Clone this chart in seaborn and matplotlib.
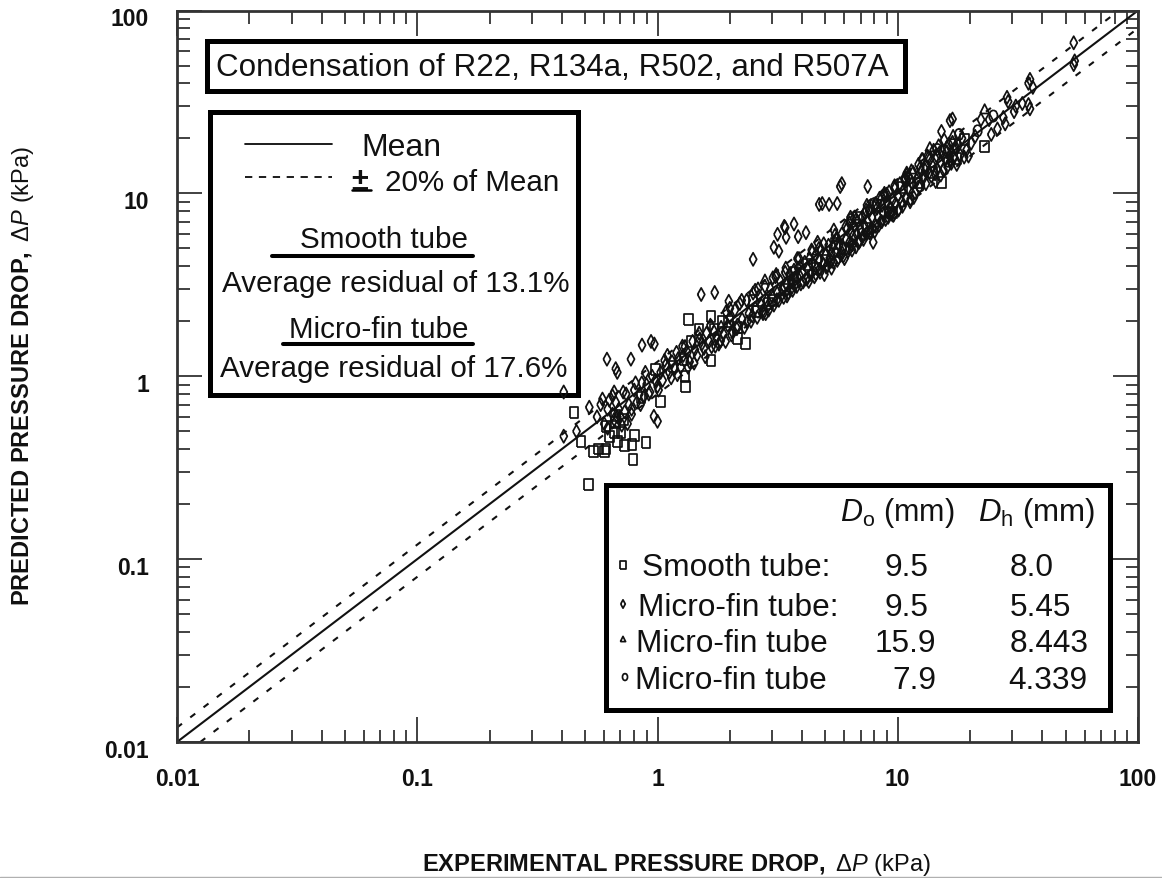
import matplotlib
matplotlib.use("Agg")
import matplotlib.pyplot as plt
from matplotlib.patches import Rectangle
from matplotlib.lines import Line2D
from matplotlib.ticker import LogLocator, NullFormatter
from matplotlib.transforms import ScaledTranslation
import seaborn as sns

sns.set_theme(style="white")
FONT = "Liberation Sans"
plt.rcParams["font.family"] = [FONT, "DejaVu Sans"]
plt.rcParams["mathtext.fontset"] = "custom"
plt.rcParams["mathtext.rm"] = FONT
plt.rcParams["mathtext.it"] = FONT + ":italic"
plt.rcParams["mathtext.bf"] = FONT + ":bold"

W, H = 1162, 879
INK = "#111111"

# ---------- data (kPa) ----------
tick_values = [0.01, 0.1, 1, 10, 100]
tick_labels = ["0.01", "0.1", "1", "10", "100"]
mean_x = [0.01, 100]
mean_y = [0.01, 100]
upper_x = [0.01, 83.3]
upper_y = [0.012, 100]
lower_x = [0.0125, 100]
lower_y = [0.01, 80]

smooth_x = [.449, .518, .48, .543, .61, .79, .895, .783, .805, .61,
            .67, .66, .705, .853, 1.03, 1.31, 1.30, 1.16, .98, 1.67,
            1.35, 2.32, 2.16, 2.16, 1.87, 1.67, 1.97, 1.49, 1.38, 1.72,
            1.29, .57, .63, .68, .73, .60, .67, .72, 2.6, 2.9,
            2.5, 3.0, 3.4, 3.7, 4.2, 4.6, 5.0, 5.5, 6.0, 6.8,
            7.5, 8.2, 9.5, 10.5, 12.1, 14.0, 15.2, 17.5, 19.0, 22.9]
smooth_y = [.636, .257, .44, .39, .40, .352, .436, .425, .476, .533,
            .56, .495, .495, .768, .73, .88, 1.0, 1.13, 1.09, 1.22,
            2.05, 1.51, 1.61, 1.85, 2.0, 2.13, 2.0, 1.81, 1.55, 1.81,
            1.24, .40, .47, .44, .42, .39, .61, .58, 2.25, 2.5,
            2.6, 2.6, 3.0, 3.7, 4.1, 3.9, 4.3, 5.3, 5.0, 7.4,
            6.4, 8.6, 7.9, 10.8, 11.4, 13.0, 11.5, 15.5, 19.8, 18.0]

finned_x = [.56, .58, .60, .62, .63, .65, .66, .67, .69, .70,
            .71, .73, .74, .76, .78, .80, .82, .84, .86, .88,
            .90, .93, .95, .98, 1.0, 1.03, 1.05, 1.08, 1.1, 1.12,
            1.15, 1.18, 1.2, 1.22, 1.25, 1.28, 1.3, 1.33, 1.36, 1.4,
            1.43, 1.46, 1.5, 1.53, 1.56, 1.6, 1.64, 1.68, 1.72, 1.76,
            1.8, 1.84, 1.88, 1.92, 1.96, 2.0, 2.05, 2.1, 2.15, 2.2,
            2.25, 2.3, 2.35, 2.4, 2.45, 2.5, 2.55, 2.6, 2.65, 2.7,
            2.75, 2.8, 2.85, 2.9, 2.95, 3.0, 3.05, 3.1, 3.15, 3.2,
            3.25, 3.3, 3.35, 3.4, 3.45, 3.5, 3.55, 3.6, 3.65, 3.7,
            3.75, 3.8, 3.85, 3.9, 3.95, 4.0, 4.1, 4.15, 4.2, 4.3,
            4.35, 4.4, 4.5, 4.55, 4.6, 4.7, 4.75, 4.8, 4.9, 4.95,
            5.0, 5.1, 5.15, 5.2, 5.3, 5.35, 5.4, 5.5, 5.55, 5.6,
            5.7, 5.8, 5.85, 5.9, 6.0, 6.1, 6.15, 6.2, 6.3, 6.4,
            6.45, 6.5, 6.6, 6.7, 6.75, 6.8, 6.9, 7.0, 7.1, 7.2,
            7.25, 7.3, 7.4, 7.5, 7.6, 7.7, 7.8, 7.9, 8.0, 8.1,
            8.2, 8.3, 8.4, 8.5, 8.6, 8.7, 8.8, 8.9, 9.0, 9.1,
            9.2, 9.3, 9.5, 9.6, 9.7, 9.8, 10.0, 10.1, 10.2, 10.4,
            10.5, 10.7, 10.8, 11.0, 11.1, 11.3, 11.5, 11.6, 11.8, 12.0,
            12.2, 12.3, 12.5, 12.6, 12.8, 13.0, 13.1, 13.3, 13.5, 13.6,
            13.8, 14.0, 14.1, 14.3, 14.5, 14.6, 14.8, 15.0, 15.1, 15.3,
            15.5, 15.6, 15.8, 16.0, 16.1, 16.3, 16.5, 16.7, 16.9, 17.1,
            17.3, 17.6, 17.9, 18.2, 18.5, 18.9, 19.3, 19.7, 20.2, 21.0,
            # outliers
            .407, .407, .46, .52, .59, .66, .616, .67, .68, .775,
            .862, .94, .97, .966, 1.0, 1.52, 1.73, 1.98, 2.0, 2.5,
            3.05, 3.2, 3.37, 3.7, 3.85, 4.15, 3.16, 3.4, 3.43, 4.71,
            4.85, 5.18, 5.6, 5.76, 5.85, 7.5, 10.7, 12.7, 15.2, 16.5,
            16.9, 22.2, 24.0, 28.8, 28.0, 27.5, 35.0, 36.5, 35.0, 35.5,
            54.0, 54.0, 54.5, 31.0, 24.5, 28.5, 35.5, 26.0, 30.5, 33.0,
            # thicker band
            .62, .65, .68, .72, .75, .78, .81, .85, .89, .92,
            1.01, 1.07, 1.14, 1.21, 1.27, 1.34, 1.42, 1.49, 1.58, 1.66,
            1.74, 1.83, 1.93, 2.03, 2.14, 2.24, 2.36, 2.48, 2.62, 2.74,
            2.88, 3.02, 3.14, 3.28, 3.42, 3.58, 3.72, 3.88, 4.04, 4.22,
            4.38, 4.56, 4.72, 4.92, 5.08, 5.28, 5.48, 5.66, 5.88, 6.08,
            6.28, 6.48, 6.72, 6.94, 7.16, 7.38, 7.62, 7.84, 8.08, 8.34,
            8.58, 8.84, 9.12, 9.42, 9.72, 10.06, 10.46, 10.86, 11.26, 11.66,
            2.55, 2.82, 3.12, 3.46, 3.82, 4.26, 4.64, 5.04, 5.42, 5.94,
            6.36, 6.84, 7.44, 8.02, 8.78, 9.56, 12.4, 13.4, 14.4, 16.6]
finned_y = [.60, .70, .55, .66, .74, .62, .58, .72, .66, .60,
            .54, .64, .80, .70, .62, .84, .72, .80, .92, .78,
            .90, .82, 1.0, .95, .88, 1.05, .95, 1.15, 1.3, 1.05,
            1.2, 1.1, 1.35, 1.25, 1.12, 1.3, 1.45, 1.35, 1.2, 1.55,
            1.4, 1.3, 1.6, 1.5, 1.42, 1.72, 1.55, 1.45, 1.75, 1.62,
            1.5, 1.85, 1.7, 1.55, 1.9, 2.1, 1.75, 2.3, 1.9, 2.5,
            2.05, 1.85, 2.6, 2.2, 2.0, 2.85, 2.35, 2.1, 2.75, 2.45,
            2.2, 3.1, 2.6, 2.3, 3.0, 2.75, 2.45, 3.5, 2.85, 2.6,
            3.3, 3.0, 2.7, 3.7, 3.15, 2.85, 3.6, 3.3, 2.95, 3.8,
            3.4, 3.1, 3.9, 3.55, 3.2, 3.7, 4.2, 3.4, 3.9, 4.4,
            3.6, 4.1, 3.5, 4.6, 3.9, 4.3, 3.7, 4.9, 4.1, 3.6,
            4.6, 4.0, 5.2, 4.4, 3.9, 5.1, 4.2, 4.8, 5.6, 4.3,
            5.2, 4.6, 6.0, 5.0, 4.4, 5.6, 6.4, 4.8, 5.4, 6.2,
            4.9, 5.8, 6.6, 5.1, 6.0, 7.0, 5.4, 6.3, 7.4, 5.6,
            6.7, 7.8, 6.0, 7.0, 8.2, 6.2, 7.4, 5.4, 8.4, 6.6,
            8.3, 7.4, 9.4, 7.0, 8.6, 7.8, 10.0, 7.2, 8.9, 7.9,
            10.2, 8.4, 9.2, 7.6, 11.0, 8.8, 9.7, 8.2, 11.3, 9.0,
            10.2, 11.9, 9.5, 10.6, 12.4, 9.3, 11.4, 13.0, 10.1, 11.8,
            14.4, 10.8, 13.2, 15.3, 12.2, 14.2, 11.3, 16.0, 13.0, 15.4,
            12.4, 14.0, 17.2, 12.8, 16.0, 13.6, 18.2, 14.8, 12.6, 17.0,
            13.4, 19.6, 15.4, 17.8, 14.0, 18.6, 16.0, 14.6, 19.0, 15.6,
            17.6, 14.4, 18.4, 16.2, 20.0, 15.8, 17.2, 16.0, 18.8, 20.5,
            # outliers
            .82, .47, .50, .677, .75, .82, 1.24, 1.1, 1.05, 1.24,
            1.48, 1.55, 1.5, .604, .567, 2.8, 2.87, 2.57, 2.35, 4.36,
            5.07, 4.83, 6.6, 6.8, 5.8, 6.1, 5.97, 6.5, 5.75, 8.7,
            8.8, 8.7, 8.8, 10.9, 11.3, 10.9, 12.2, 15.3, 21.8, 25.0,
            25.5, 25.3, 25.3, 31.8, 24.0, 26.0, 40.0, 38.0, 30.6, 29.0,
            66.6, 50.6, 53.0, 30.0, 21.0, 33.5, 42.0, 22.5, 28.0, 31.0,
            # thicker band
            .52, .78, .60, .82, .55, .66, .92, .70, 1.05, .80,
            .84, 1.22, .98, 1.02, 1.46, 1.12, 1.18, 1.72, 1.28, 1.9,
            1.46, 1.56, 2.25, 1.68, 1.82, 2.6, 1.98, 2.14, 3.0, 2.28,
            2.42, 3.45, 2.62, 2.78, 3.9, 2.98, 3.14, 4.4, 3.28, 3.46,
            4.9, 3.62, 3.84, 5.3, 4.02, 4.26, 5.9, 4.44, 4.72, 6.6,
            4.98, 5.24, 7.2, 5.5, 5.82, 8.1, 6.08, 6.38, 8.8, 6.7,
            7.0, 9.8, 7.4, 7.7, 10.6, 8.1, 8.5, 12.6, 9.0, 9.5,
            2.95, 2.2, 3.6, 2.75, 4.4, 3.3, 5.4, 3.95, 6.3, 4.55,
            7.4, 5.4, 8.6, 6.2, 9.8, 7.6, 13.8, 15.6, 11.6, 15.0]

circle_x = [6.4, 7.1, 8.0, 9.2, 10.8, 12.4, 14.6, 16.2, 18.0, 21.5, 25.0]
circle_y = [7.2, 6.0, 8.8, 7.8, 11.8, 11.0, 17.4, 15.0, 21.0, 22.0, 26.5]
tri_x = [2.8, 3.6, 4.4, 5.6, 6.6, 8.6, 11.4, 13.6, 17.0, 23.0]
tri_y = [3.4, 3.2, 4.9, 5.8, 7.6, 9.8, 13.6, 18.0, 21.0, 29.0]

finned_minor = [4.7, 5.3, 6.3, 7.6, 9.0, 10.9, 13.0, 14.9, 16.0, 17.4]
finned_minor_y = [5.0, 4.7, 6.9, 8.0, 9.9, 12.9, 13.4, 16.6, 16.9, 18.0]

# ---------- legend / annotation text ----------
title_text = "Condensation of R22, R134a, R502, and R507A"
legend_mean = "Mean"
legend_band = "20% of Mean"
smooth_head = "Smooth tube"
smooth_resid = "Average residual of 13.1%"
finned_head = "Micro-fin tube"
finned_resid = "Average residual of 17.6%"
table_rows = [("Smooth tube:", "9.5", "8.0"),
              ("Micro-fin tube:", "9.5", "5.45"),
              ("Micro-fin tube", "15.9", "8.443"),
              ("Micro-fin tube", "7.9", "4.339")]

# ---------- figure ----------
fig = plt.figure(figsize=(W / 100, H / 100), dpi=100)
L, R, T, B = 177, 1138, 11.5, 743
ax = fig.add_axes([L / W, 1 - B / H, (R - L) / W, (B - T) / H])
ax.set_xscale("log")
ax.set_yscale("log")

SQ = [(-.8, -1), (.8, -1), (.8, 1), (-.8, 1), (-.8, -1)]
DI = [(-.55, 0), (0, -1), (.55, 0), (0, 1), (-.55, 0)]
TR = [(-1, -1), (1, -1), (0, 1), (-1, -1)]
OV = [(0, 1), (.45, .8), (.7, .3), (.7, -.3), (.45, -.8), (0, -1),
      (-.45, -.8), (-.7, -.3), (-.7, .3), (-.45, .8), (0, 1)]

sns.lineplot(x=mean_x, y=mean_y, ax=ax, color=INK, lw=1.5, zorder=2)
sns.lineplot(x=upper_x, y=upper_y, ax=ax, color=INK, lw=1.5, zorder=2)
sns.lineplot(x=lower_x, y=lower_y, ax=ax, color=INK, lw=1.5, zorder=2)
for ln in ax.lines[1:]:
    ln.set_linestyle((0, (3.0, 5.0)))


def pts(x, y, marker, s):
    sns.scatterplot(x=x, y=y, ax=ax, marker=marker, s=s, facecolor="none",
                    edgecolor=INK, linewidth=1.25, zorder=4, legend=False)


pts(finned_x, finned_y, DI, 90)
pts(finned_minor, finned_minor_y, DI, 90)
pts(circle_x, circle_y, OV, 70)
pts(tri_x, tri_y, TR, 45)
pts(smooth_x, smooth_y, SQ, 62)

ax.set_xlim(0.01, 100)
ax.set_ylim(0.01, 100)
ax.set_xticks(tick_values, tick_labels)
ax.set_yticks(tick_values, tick_labels)
for axis in (ax.xaxis, ax.yaxis):
    axis.set_minor_locator(LogLocator(base=10, subs=range(2, 10), numticks=20))
    axis.set_minor_formatter(NullFormatter())
ax.tick_params(which="major", direction="in", length=18, width=1.3, color="#333333",
               top=True, right=True, bottom=True, left=True)
ax.tick_params(which="minor", direction="in", length=9, width=1.3, color="#333333",
               top=True, right=True, bottom=True, left=True)
ax.tick_params(axis="x", which="major", pad=18, labelsize=16.5)
ax.tick_params(axis="y", which="major", pad=20, labelsize=16.5)
for lab in ax.get_xticklabels() + ax.get_yticklabels():
    lab.set_fontweight("bold")
    lab.set_color(INK)
for lab in ax.get_yticklabels():
    lab.set_transform(lab.get_transform() +
                      ScaledTranslation(0, -4 / 72, fig.dpi_scale_trans))
for sp in ax.spines.values():
    sp.set_visible(True)
    sp.set_linewidth(2.0)
    sp.set_color("#333333")


def fx(x):
    return x / W


def fy(y):
    return 1 - y / H


def box(x0, y0, x1, y1, lw=5):
    ax.add_patch(Rectangle((fx(x0), fy(y1)), (x1 - x0) / W, (y1 - y0) / H,
                           transform=fig.transFigure, fc="white", ec="black",
                           lw=lw * 0.72, zorder=3, clip_on=False, joinstyle="miter"))


def txt(x, y, s, size=21.3, ha="left", **kw):
    fig.text(fx(x), fy(y + 2.5), s, fontsize=size, ha=ha, va="center", color=INK,
             zorder=6, **kw)


def rule(x0, x1, y, lw=2.9, ls="-", color="black"):
    fig.add_artist(Line2D([fx(x0), fx(x1)], [fy(y), fy(y)], color=color, lw=lw,
                          ls=ls, zorder=6))


box(207, 42, 905, 92)
box(210, 113, 578, 396)
box(606, 486, 1110, 711)

txt(216, 66, title_text, size=22.55)
rule(245, 332, 145, lw=1.25)
rule(245, 332, 178, lw=1.25, ls=(0, (4.2, 3.8)))
txt(361, 146, legend_mean, size=23)
txt(351, 179, "\u00b1", size=22, fontweight="bold")
rule(352, 371, 191, lw=1.8)
txt(385, 181, legend_band)
txt(300, 238, smooth_head)
rule(272, 473, 257)
txt(222, 282, smooth_resid)
txt(289, 328, finned_head)
rule(283, 473, 345)
txt(220, 367, finned_resid)

txt(840, 511, r"$\mathit{D}_{\mathrm{o}}$ (mm)", size=22)
txt(978, 511, r"$\mathit{D}_{\mathrm{h}}$ (mm)", size=22.5)
row_y = [566, 606, 642, 679]
name_x = [642, 638, 636, 635]
do_x = [885, 885, 875, 892]
dh_x = [1010, 1010, 1010, 1008]
for (name, do, dh), y, nx, dx, hx in zip(table_rows, row_y, name_x, do_x, dh_x):
    txt(nx, y, name, size=22.8)
    txt(dx, y, do, size=22.8)
    txt(hx, y, dh, size=22.8)

for (mx, my, m, ss) in [(623, 566, SQ, 30), (623, 605, DI, 36),
                        (623, 640, TR, 14), (625, 678, OV, 26)]:
    ax.scatter([fx(mx)], [fy(my)], transform=fig.transFigure, marker=m, s=ss,
               facecolor="none", edgecolor=INK, linewidth=1.25, zorder=6,
               clip_on=False)

fig.text(fx(676), fy(865),
         r"$\mathbf{EXPERIMENTAL\ PRESSURE\ DROP,}$ $\Delta\mathit{P}$ (kPa)",
         fontsize=17, ha="center", va="center", color=INK)
fig.text(fx(23), fy(376),
         r"$\mathbf{PREDICTED\ PRESSURE\ DROP,}$ $\Delta\mathit{P}$ (kPa)",
         fontsize=17, ha="center", va="center", rotation=90, color=INK)
fig.add_artist(Line2D([0, 1], [fy(878), fy(878)], color="#b0b0b0", lw=1))

fig.savefig("out.png", dpi=100)
